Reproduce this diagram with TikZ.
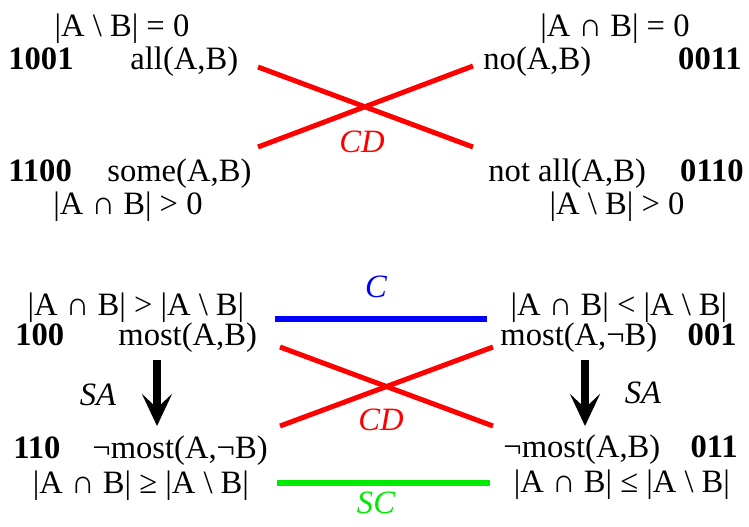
\documentclass[tikz,border=0pt]{standalone}
\usepackage{fontspec}
\setmainfont{Liberation Serif}
\usetikzlibrary{arrows.meta}
\definecolor{brightgreen}{RGB}{0,235,0}

\begin{document}
\begin{tikzpicture}[x=0.5pt,y=-0.5pt,>={Stealth[length=16pt,width=15pt,inset=7pt]},
  every node/.style={inner sep=0pt,font=\fontsize{16.3pt}{19pt}\selectfont},
  num/.style={font=\fontsize{16.3pt}{19pt}\selectfont\bfseries},
  rel/.style={font=\fontsize{16.3pt}{19pt}\selectfont\itshape,anchor=base},
  cross/.style={red,line width=2.5pt},
  bar/.style={line width=3pt}]
\useasboundingbox (0,0) rectangle (749,526);
% square of opposition
\node[anchor=base] (allset) at (122,36) {|A \textbackslash{} B| = 0};
\node[num,anchor=base west] (n1001) at (8,69) {1001};
\node[anchor=base west] (all) at (130,69) {all(A,B)};
\node[num,anchor=base west] (n1100) at (8,181) {1100};
\node[anchor=base west] (some) at (107,181) {some(A,B)};
\node[anchor=base] (someset) at (128,214) {|A ∩ B| > 0};
\node[anchor=base] (noset) at (615,36) {|A ∩ B| = 0};
\node[anchor=base west] (no) at (483,69) {no(A,B)};
\node[num,anchor=base east] (n0011) at (742,69) {0011};
\node[anchor=base west] (notall) at (488,181) {not all(A,B)};
\node[num,anchor=base east] (n0110) at (744,181) {0110};
\node[anchor=base] (notallset) at (617,214) {|A \textbackslash{} B| > 0};
\coordinate (allend) at (258,67);
\coordinate (someend) at (258,147);
\coordinate (noend) at (473,66);
\coordinate (notallend) at (473,147);
\draw[cross] (allend) -- (notallend);
\draw[cross] (someend) -- (noend);
\node[rel,red] (cdtop) at (362,152) {CD};
% most
\node[anchor=base] (mostset) at (136,315) {|A ∩ B| > |A \textbackslash{} B|};
\node[num,anchor=base west] (n100) at (15,345) {100};
\node[anchor=base west] (most) at (118,345) {most(A,B)};
\node[num,anchor=base west] (n110) at (13,458) {110};
\node[anchor=base west] (nmostneg) at (92,458) {¬most(A,¬B)};
\node[anchor=base] (nmostnegset) at (141,493) {|A ∩ B| ≥ |A \textbackslash{} B|};
\node[anchor=base] (mostnegset) at (619,315) {|A ∩ B| < |A \textbackslash{} B|};
\node[anchor=base west] (mostneg) at (500,345) {most(A,¬B)};
\node[num,anchor=base east] (n001) at (737,345) {001};
\node[anchor=base west] (nmost) at (503,457) {¬most(A,B)};
\node[num,anchor=base east] (n011) at (738,457) {011};
\node[anchor=base] (nmostset) at (622,492) {|A ∩ B| ≤ |A \textbackslash{} B|};
\coordinate (mostend) at (280,347);
\coordinate (nmostnegend) at (280,426);
\coordinate (mostnegend) at (493,347);
\coordinate (nmostend) at (493,426);
\draw[cross] (mostend) -- (nmostend);
\draw[cross] (nmostnegend) -- (mostnegend);
\node[rel,red] (cdbot) at (381,430) {CD};
\coordinate (cleft) at (275,319);
\coordinate (cright) at (487,319);
\draw[bar,blue] (cleft) -- (cright);
\node[rel,blue] (c) at (376,297) {C};
\coordinate (scleft) at (277,483);
\coordinate (scright) at (490,483);
\draw[bar,brightgreen] (scleft) -- (scright);
\node[rel,brightgreen] (sc) at (376,513) {SC};
\coordinate (satop) at (157,360);
\coordinate (sabot) at (157,426);
\draw[->,line width=4pt] (satop) -- (sabot);
\node[rel] (saleft) at (98,405) {SA};
\coordinate (sbtop) at (585,360);
\coordinate (sbbot) at (585,426);
\draw[->,line width=4pt] (sbtop) -- (sbbot);
\node[rel] (saright) at (643,403) {SA};
\end{tikzpicture}
\end{document}
